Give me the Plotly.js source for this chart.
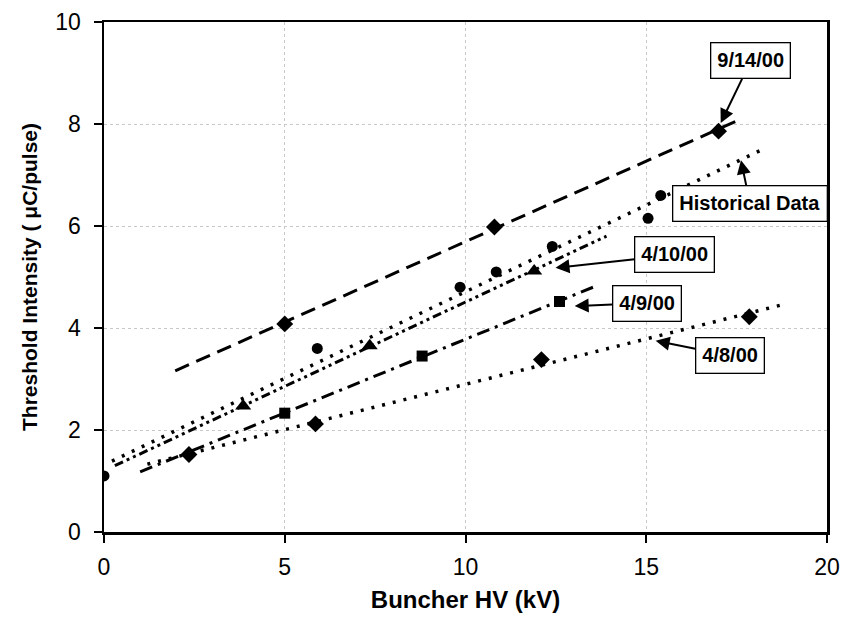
<!DOCTYPE html>
<html>
<head>
<meta charset="utf-8">
<script src="https://cdn.plot.ly/plotly-3.0.1.min.js"></script>
<style>html,body{margin:0;padding:0;background:#fff;}#chart{width:847px;height:620px;}</style>
</head>
<body>
<div id="chart"></div>
<script>
// Measured data points
const hist_x = [0, 5.9, 9.85, 10.85, 12.4, 15.05, 15.4];
const hist_y = [1.1, 3.6, 4.8, 5.1, 5.6, 6.15, 6.6];
const d0914_x = [5, 10.8, 17.0];
const d0914_y = [4.08, 5.98, 7.86];
const d0410_x = [3.85, 7.35, 11.9];
const d0410_y = [2.47, 3.65, 5.12];
const d0409_x = [5, 8.8, 12.6];
const d0409_y = [2.33, 3.45, 4.52];
const d0408_x = [2.35, 5.85, 12.1, 17.85];
const d0408_y = [1.52, 2.12, 3.38, 4.22];

// Trend line end points
const fit0914_x = [1.97, 17.5];
const fit0914_y = [3.16, 8.06];
const fitHist_x = [0.22, 18.3];
const fitHist_y = [1.39, 7.53];
const fit0410_x = [0.3, 13.9];
const fit0410_y = [1.3, 5.8];
const fit0409_x = [1.0, 13.6];
const fit0409_y = [1.18, 4.82];
const fit0408_x = [1.2, 18.9];
const fit0408_y = [1.33, 4.48];

// Label texts and arrow targets
const labelText = ['9/14/00', 'Historical Data', '4/10/00', '4/9/00', '4/8/00'];
const labelX = [17.06, 17.62, 12.49, 13.02, 15.26];
const labelY = [8.02, 7.29, 5.18, 4.43, 3.75];

const xTicks = [0, 5, 10, 15, 20];
const yTicks = [0, 2, 4, 6, 8, 10];

const K = '#000';
const FAM = 'Arial, Liberation Sans, sans-serif';
function line(x, y, dash, w) {
  return {x: x, y: y, mode: 'lines', type: 'scatter', line: {color: K, width: w, dash: dash}, hoverinfo: 'skip', showlegend: false};
}
function pts(x, y, sym, size) {
  return {x: x, y: y, mode: 'markers', type: 'scatter', marker: {color: K, symbol: sym, size: size}, showlegend: false};
}

const traces = [
  line(fit0914_x, fit0914_y, '15px,8px', 3),
  line(fitHist_x, fitHist_y, '3px,8px', 3.5),
  line(fit0410_x, fit0410_y, '9px,4px,3px,4px,3px,4px', 3),
  line(fit0409_x, fit0409_y, '13px,6px,3px,6px', 3),
  line(fit0408_x, fit0408_y, '3px,8px', 3.5),
  pts(d0914_x, d0914_y, 'diamond', 13),
  pts(hist_x, hist_y, 'circle', 11),
  pts(d0410_x, d0410_y, 'triangle-up', 14),
  pts(d0409_x, d0409_y, 'square', 11),
  pts(d0408_x, d0408_y, 'diamond', 13)
];

const offsets = [[30, -62], [9, 43], [119, -13], [72, -3], [74, 15]];
const annotations = labelText.map((t, i) => ({
  x: labelX[i], y: labelY[i], xref: 'x', yref: 'y',
  text: '<b>' + t + '</b>',
  showarrow: true, arrowhead: 2, arrowsize: 1.4, arrowwidth: 2, arrowcolor: K,
  ax: offsets[i][0], ay: offsets[i][1],
  font: {family: FAM, size: 20, color: K},
  bgcolor: '#fff', bordercolor: K, borderwidth: 1.3, borderpad: 6
}));

const layout = {
  width: 847, height: 620,
  margin: {l: 104, r: 20, t: 22, b: 88},
  paper_bgcolor: '#fff', plot_bgcolor: '#fff',
  font: {family: FAM, size: 22, color: K},
  xaxis: {
    range: [0, 20], tickvals: xTicks, ticktext: xTicks.map(String),
    tickfont: {family: FAM, size: 23, color: K},
    showline: true, linecolor: K, linewidth: 2.5, mirror: true,
    ticks: 'outside', ticklen: 8, tickwidth: 2, tickcolor: K,
    showgrid: true, gridcolor: '#c8c8c8', griddash: 'dot', gridwidth: 1,
    zeroline: false, ticklabelstandoff: 5,
    title: {text: '<b>Buncher HV (kV)</b>', font: {family: FAM, size: 24, color: K}, standoff: 12}
  },
  yaxis: {
    range: [0, 10], tickvals: yTicks, ticktext: yTicks.map(String),
    tickfont: {family: FAM, size: 23, color: K},
    showline: true, linecolor: K, linewidth: 2.5, mirror: true,
    ticks: 'outside', ticklen: 8, tickwidth: 2, tickcolor: K,
    showgrid: true, gridcolor: '#c8c8c8', griddash: 'dot', gridwidth: 1,
    zeroline: false, ticklabelstandoff: 8,
    title: {text: '<b>Threshold Intensity ( \u03BCC/pulse)</b>', font: {family: FAM, size: 21, color: K}, standoff: 12}
  },
  annotations: annotations,
  showlegend: false
};

Plotly.newPlot('chart', traces, layout, {displayModeBar: false, staticPlot: true});
</script>
</body>
</html>
